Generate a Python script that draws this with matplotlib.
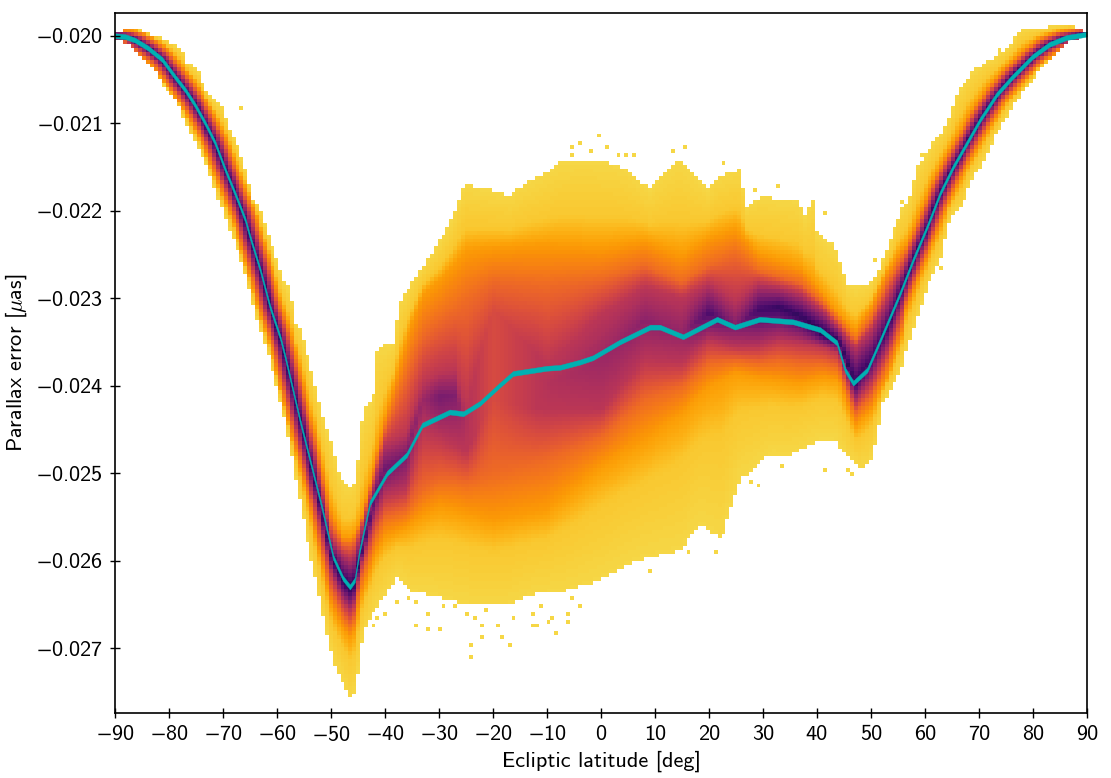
import matplotlib
matplotlib.use("Agg")
import matplotlib.pyplot as plt
import numpy as np

plt.rcParams['mathtext.fontset'] = 'cm'
plt.rcParams['mathtext.default'] = 'regular'
plt.rcParams['font.family'] = 'cmss10'
plt.rcParams['axes.unicode_minus'] = False

# all parallax values below are in units of 0.001 muas
# running median
line_lat = [-90, -88.1, -86.3, -83.9, -81.3, -78.9, -77, -75.2, -73.3, -71.5, -69.6, -67.8, -65.9, -65, -63.1, -61.3,
            -59.4, -58.5, -55.7, -51.7, -49.6, -47.8, -46.5, -45.6, -44.8, -42.8, -39.6, -36, -33.1, -28, -25.5,
            -22.4, -18.7, -16.3, -10, -7.6, -3.9, -1.5, 3.5, 9.1, 10.9, 15.2, 21.5, 24.8, 29.4, 35.6, 40.6, 43.7,
            45.2, 46.7, 49.3, 51.7, 55.4, 57.8, 60.4, 62.8, 65.2, 67.8, 70.2, 73.3, 76.2, 79.9, 83, 86.2, 89.2, 90]
line_err = [-20.00, -20.01, -20.05, -20.14, -20.27, -20.47, -20.62, -20.79, -21.00, -21.22, -21.53, -21.80, -22.10,
            -22.30, -22.68, -23.10, -23.45, -23.67, -24.41, -25.39, -25.96, -26.2, -26.3, -26.22, -25.91, -25.34,
            -25.0, -24.79, -24.45, -24.3, -24.32, -24.2, -23.99, -23.86, -23.8, -23.79, -23.73, -23.68, -23.5,
            -23.33, -23.33, -23.44, -23.24, -23.33, -23.24, -23.27, -23.36, -23.51, -23.82, -23.97, -23.82, -23.48,
            -22.94, -22.56, -22.18, -21.80, -21.50, -21.22, -20.96, -20.67, -20.47, -20.24, -20.10, -20.02, -19.99,
            -19.98]

# outer limit of the populated cells
top_lat = [-90, -89.4, -86.3, -83.1, -79.4, -77, -76.7, -74.6, -72.8, -70.2, -68.4, -67.4, -66.5, -65.6, -64.4, -63.1,
           -62.8, -61.9, -60.7, -58.9, -57.2, -57, -55.7, -53.9, -52, -49.6, -48.3, -45.9, -45, -44.1, -42.2, -41.3,
           -38.5, -37.2, -33.5, -28, -25.2, -20.6, -16.9, -13.1, -9.4, -7.6, -4.4, -1.5, 1.7, 4.8, 9.1, 10.9, 14.6,
           18.3, 19.6, 21.5, 25.7, 27, 29.4, 36.9, 37.4, 39.3, 40, 43.7, 45.6, 46.7, 49.8, 51.7, 55.4, 57.2, 58.5,
           61.5, 63.3, 64.6, 65.9, 68.9, 72, 75.7, 77.6, 81.9, 86.9, 90]
top_err = [-19.97, -19.95, -19.91, -19.99, -20.08, -20.18, -20.30, -20.41, -20.67, -20.82, -21.13, -21.22, -21.42,
           -21.57, -21.88, -21.96, -22.08, -22.22, -22.45, -22.79, -23.02, -23.28, -23.33, -23.74, -24.24, -24.74,
           -25.08, -25.16, -24.85, -24.28, -24.13, -23.56, -23.51, -23.02, -22.68, -22.16, -21.70, -21.76, -21.82,
           -21.65, -21.53, -21.45, -21.42, -21.42, -21.45, -21.53, -21.76, -21.61, -21.42, -21.65, -21.76, -21.61,
           -21.53, -21.96, -21.84, -21.88, -22.10, -21.88, -22.25, -22.45, -22.83, -22.87, -22.85, -22.64, -22.02,
           -21.84, -21.50, -21.22, -21.08, -20.93, -20.65, -20.41, -20.27, -20.13, -19.93, -19.90, -19.87, -19.95]
bot_lat = [-90, -88.1, -85.7, -83.1, -81.1, -78.5, -77.4, -75.6, -73.3, -71.1, -68.7, -66.3, -63.7, -61.3, -58.5,
           -54.4, -52.6, -51.1, -49.3, -47.4, -46.1, -45, -44.1, -42.2, -37.8, -35.4, -32.2, -28, -24.3, -17.4,
           -12.6, -6.3, -0.2, 7.2, 14.6, 18.3, 22.4, 23.9, 25.7, 31.3, 35, 40.6, 43.3, 46.1, 48, 49.8, 51.1, 52.2,
           55.4, 59.6, 61.5, 63.1, 64.6, 67, 68.3, 70.7, 73.3, 76.2, 79.4, 83.1, 86.9, 90]
bot_err = [-20.03, -20.08, -20.22, -20.35, -20.56, -20.75, -20.94, -21.17, -21.42, -21.84, -22.22, -22.64, -23.25,
           -23.71, -24.39, -25.76, -26.30, -26.76, -27.22, -27.45, -27.62, -27.29, -26.83, -26.60, -26.19, -26.34,
           -26.39, -26.45, -26.51, -26.51, -26.39, -26.34, -26.22, -25.99, -25.88, -25.59, -25.76, -25.42, -25.08,
           -24.79, -24.79, -24.62, -24.62, -24.85, -24.96, -24.90, -24.59, -24.20, -23.85, -23.02, -22.71, -22.53,
           -22.07, -21.96, -21.68, -21.45, -21.11, -20.81, -20.54, -20.27, -20.05, -20.01]

# colour contours around the dense part between the two dips
core_lat = [-53, -50, -48, -46, -44.5, -42, -40, -36, -33, -30, -27, -25, -20, -10, 0, 8, 15, 20, 25, 29, 33, 37, 41,
            44, 47, 50, 53, 56]
up_orange = [-24.47, -25.42, -25.73, -25.73, -25.54, -24.88, -24.36, -23.45, -22.95, -22.80, -22.60, -22.45, -22.42,
             -22.38, -22.42, -22.34, -22.50, -22.30, -22.20, -22.48, -22.56, -22.64, -22.94, -23.17, -23.36, -23.10,
             -22.68, -22.41]
up_red = [-24.62, -25.59, -25.80, -25.82, -25.59, -25.00, -24.51, -23.88, -23.42, -23.25, -23.13, -23.02, -22.80,
          -22.85, -22.78, -22.62, -22.82, -22.62, -22.50, -22.68, -22.76, -22.83, -23.05, -23.25, -23.48, -23.25,
          -22.83, -22.53]
up_purple = [-24.79, -25.74, -25.91, -25.99, -25.68, -25.11, -24.66, -24.54, -23.97, -23.85, -23.82, -24.24, -23.13,
             -23.76, -23.18, -22.87, -22.99, -22.83, -23.02, -22.83, -22.87, -22.94, -23.13, -23.33, -23.56, -23.36,
             -22.99, -22.65]
ridge = [-25.08, -25.94, -26.20, -26.34, -25.94, -25.31, -24.96, -24.79, -24.16, -24.13, -24.11, -24.43, -23.65,
         -23.99, -23.71, -23.25, -23.40, -23.17, -23.33, -23.13, -23.10, -23.21, -23.40, -23.48, -23.97, -23.71,
         -23.33, -22.85]
ridge_level = [.17, .17, .15, .13, .18, .25, .30, .33, .42, .33, .35, .47, .58, .48, .42, .38, .40, .22, .35, .20,
               .17, .16, .12, .15, .15, .20, .18, .17]
dn_purple = [-25.31, -26.14, -26.45, -26.60, -26.07, -25.54, -25.27, -25.19, -24.51, -24.59, -24.68, -24.77, -24.16,
             -24.28, -24.28, -23.71, -23.74, -23.48, -23.56, -23.56, -23.48, -23.51, -23.56, -23.63, -24.20, -23.97,
             -23.60, -23.08]
dn_red = [-25.51, -26.34, -26.60, -26.76, -26.22, -25.76, -25.50, -25.42, -25.19, -25.08, -25.08, -25.11, -25.00,
          -24.85, -24.59, -24.16, -24.01, -23.74, -23.71, -23.74, -23.71, -23.74, -23.74, -23.79, -24.31, -24.13,
          -23.74, -23.25]
dn_orange = [-25.67, -26.51, -26.76, -26.91, -26.42, -25.96, -25.73, -25.62, -25.48, -25.39, -25.42, -25.46, -25.54,
             -25.42, -24.93, -24.62, -24.31, -24.01, -23.85, -23.90, -23.93, -23.97, -23.90, -23.93, -24.47, -24.28,
             -23.90, -23.39]

# single populated cells outside the main cloud
stray_lat = [-66.5, -57.8, -34.1, -32.2, -30.2, -35.7, -34.4, -38.1, -41.9, -40, -41.3, -23.9, -21.9, -19.1, -21.9,
             -18.3, -17.2, -23.9, -12.8, -11.7, -9.8, -8.5, -6.3, -6.3, -0.6, -3.9, -5.2, 15.6, 23, 5.9, 4.8, 28.5,
             33, 41.3, 50.6, 43, 29.4, 27.6, 33.5, 41.1, 31.9, 45.6, 46.7, 9.1, 16.5, 21.1, 59.4, 73.7, 75, 63, 56,
             -74.4, -32.2, -29.3, -26.7, -25.2, -23.7, -21.1, -16.3, -12.6, -11.3, -9.1, -5.2, -4.1, -2, -5.7, 0.9,
             3.5, 13.1]
stray_err = [-20.83, -22.87, -26.74, -26.79, -26.79, -26.43, -26.49, -26.49, -26.74, -26.62, -26.66, -27.10, -26.76,
             -26.75, -26.89, -26.87, -26.94, -26.94, -26.74, -26.74, -26.71, -26.82, -26.71, -26.62, -21.16, -21.24,
             -21.28, -21.28, -21.45, -21.34, -21.34, -21.77, -21.73, -22.02, -22.55, -22.40, -25.16, -25.08, -24.92,
             -24.94, -24.76, -24.96, -24.99, -26.11, -25.88, -25.88, -21.38, -20.15, -20.91, -22.63, -21.89, -20.42,
             -26.60, -26.53, -26.53, -26.60, -26.65, -26.57, -26.65, -26.59, -26.53, -26.65, -26.42, -26.53, -21.30,
             -21.36, -21.28, -21.36, -21.30]

x_ticks = list(range(-90, 91, 10))
y_ticks = [-0.020, -0.021, -0.022, -0.023, -0.024, -0.025, -0.026, -0.027]

# cell grid
lat_edges = np.linspace(-90, 90, 251)
err_edges = np.linspace(-27.74, -19.74, 181)
lat_c = 0.5 * (lat_edges[:-1] + lat_edges[1:])
err_c = 0.5 * (err_edges[:-1] + err_edges[1:])


def dilated(lat, h, v):
    # on the two steep arms the colour bands follow the median, shifted sideways
    a = np.interp(lat - h, line_lat, line_err)
    b = np.interp(lat + h, line_lat, line_err)
    return max(a, b) + v, min(a, b) - v


def signed(t):
    # minus comes from the math font, the digits from cmss10
    return ('$-$' + t[1:]) if t.startswith('-') else t


grid = np.full((len(err_c), len(lat_c)), np.nan)
for i, lat in enumerate(lat_c):
    top = np.interp(lat, top_lat, top_err)
    bot = np.interp(lat, bot_lat, bot_err)
    if -53 <= lat <= 56:
        uo, ur, up = [np.interp(lat, core_lat, a) for a in (up_orange, up_red, up_purple)]
        do, dr, dp = [np.interp(lat, core_lat, a) for a in (dn_orange, dn_red, dn_purple)]
        mid = np.interp(lat, core_lat, ridge)
        core = np.interp(lat, core_lat, ridge_level)
    else:
        uo, do = dilated(lat, 2.0, 0.07)
        ur, dr = dilated(lat, 1.5, 0.05)
        up, dp = dilated(lat, 1.0, 0.03)
        mid = np.interp(lat, line_lat, line_err)
        core = 0.17
    # yellow stays almost flat until close to the orange contour
    ys = np.array([bot, 0.35 * bot + 0.65 * do, do, dr, dp, mid, up, ur, uo, 0.65 * uo + 0.35 * top, top])
    ys = np.maximum.accumulate(ys)
    lev = [.90, .87, .78, .67, max(.5, core), core, max(.5, core), .67, .78, .87, .90]
    col = np.interp(err_c, ys, lev)
    col[(err_c < bot) | (err_c > top)] = np.nan
    grid[:, i] = col

for la, er in zip(stray_lat, stray_err):
    grid[np.searchsorted(err_edges, er) - 1, np.searchsorted(lat_edges, la) - 1] = 0.90

fig = plt.figure(figsize=(11.11, 7.78), dpi=100)
ax = fig.add_axes([115 / 1111, 1 - 713 / 778, 972 / 1111, 700 / 778])

ax.pcolormesh(lat_edges, err_edges * 1e-3, np.ma.masked_invalid(grid),
              cmap='inferno', vmin=0, vmax=1, shading='flat', rasterized=True)

# median is drawn with a fixed vertical thickness
line = np.array(line_err) * 1e-3
ax.fill_between(line_lat, line - 2.8e-5, line + 2.8e-5, color='#00b0b2', lw=0.3)

ax.set_xlim(-90, 90)
ax.set_ylim(-0.02774, -0.01974)
ax.set_xticks(x_ticks)
ax.set_xticklabels([signed(str(t)) for t in x_ticks])
ax.set_yticks(y_ticks)
ax.set_yticklabels([signed('%.3f' % t) for t in y_ticks])
ax.tick_params(direction='inout', length=7, width=1, labelsize=16, pad=5)
ax.set_xlabel('Ecliptic latitude [deg]', fontsize=16, labelpad=4)
ax.set_ylabel(r'Parallax error [$\mathit{\mu}$as]', fontsize=16, labelpad=5)
for s in ax.spines.values():
    s.set_linewidth(1.2)

fig.savefig('out.png', dpi=100)
